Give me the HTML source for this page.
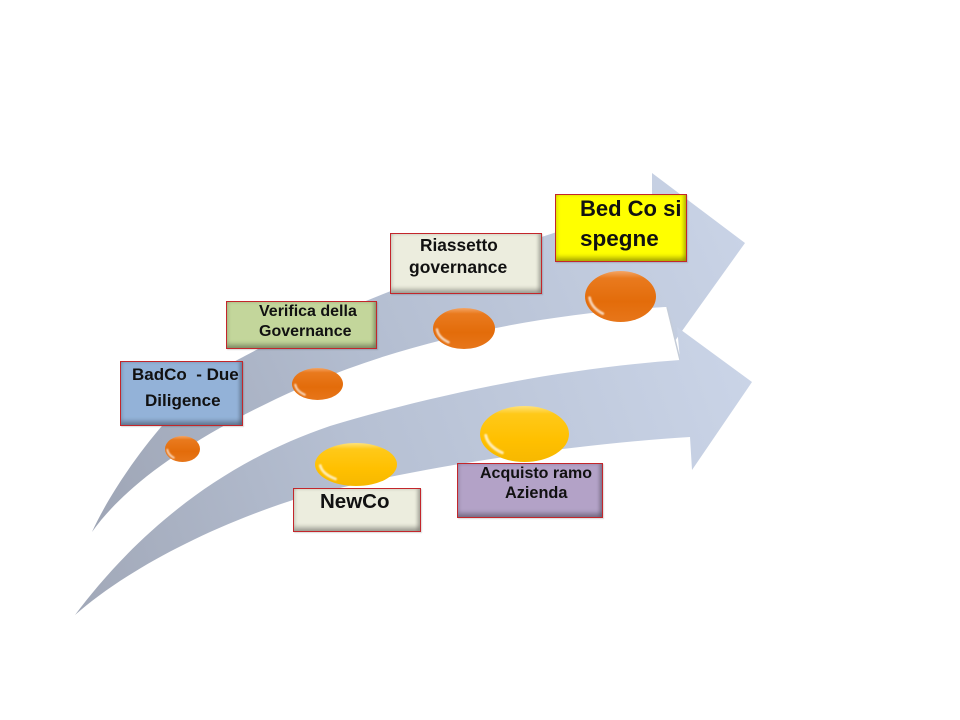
<!DOCTYPE html>
<html><head><meta charset="utf-8"><style>
html,body{margin:0;padding:0;background:#fff;}
#c{position:relative;width:960px;height:720px;overflow:hidden;background:#fff;}
svg{position:absolute;left:0;top:0;}
.b{position:absolute;box-sizing:border-box;border:1.5px solid #c3262b;box-shadow:inset 0 -4px 4px rgba(0,0,0,0.28),inset -3px 0 3px rgba(0,0,0,0.18),1px 1px 1px rgba(0,0,0,0.15);}
</style></head><body><div id="c">
<svg width="960" height="720" viewBox="0 0 960 720">
<defs>
<linearGradient id="ga" gradientUnits="userSpaceOnUse" x1="90" y1="530" x2="745" y2="240">
<stop offset="0" stop-color="#9ea5b5"/><stop offset="0.45" stop-color="#b3bdd0"/><stop offset="1" stop-color="#c9d3e6"/>
</linearGradient>
<linearGradient id="gb" gradientUnits="userSpaceOnUse" x1="75" y1="615" x2="752" y2="380">
<stop offset="0" stop-color="#a1a8b8"/><stop offset="0.45" stop-color="#b6c0d3"/><stop offset="1" stop-color="#cad4e7"/>
</linearGradient>
<linearGradient id="go" x1="0" y1="0" x2="0" y2="1">
<stop offset="0" stop-color="#f4a565"/><stop offset="0.14" stop-color="#e97a1e"/><stop offset="0.6" stop-color="#e36c0a"/><stop offset="1" stop-color="#e7761a"/>
</linearGradient>
<linearGradient id="gy" x1="0" y1="0" x2="0" y2="1">
<stop offset="0" stop-color="#ffe27a"/><stop offset="0.14" stop-color="#ffc919"/><stop offset="0.6" stop-color="#ffc000"/><stop offset="1" stop-color="#f7b800"/>
</linearGradient>
<filter id="bl" x="-20%" y="-20%" width="140%" height="140%"><feGaussianBlur stdDeviation="0.8"/></filter>
</defs>
<!-- top arrow -->
<path d="M92,532 C118,475 185,385 243,357 C300,325 480,250 652,204 L652,173 L745,243 L672,345 L667,307 C560,312 420,335 300,388 C210,428 130,478 92,532 Z" fill="url(#ga)"/>
<!-- white band -->
<path d="M600,312 L667,307 L680,360 L600,369 Z" fill="#ffffff"/>
<path d="M667,307 L680,360" stroke="#c4ccd8" stroke-width="1.5" fill="none"/>
<!-- lower arrow -->
<path d="M75,615 C120,555 200,470 330,426 C450,390 570,368 680,360 L677,327 L752,382 L692,470 L690,437 C560,445 400,470 293,500 C200,530 120,575 75,615 Z" fill="url(#gb)"/>
<!-- balls -->
<g>
<ellipse cx="182.5" cy="449" rx="17.5" ry="13" fill="url(#go)"/>
<ellipse cx="317.5" cy="384" rx="25.5" ry="16" fill="url(#go)"/>
<ellipse cx="464" cy="328.5" rx="31" ry="20.5" fill="url(#go)"/>
<ellipse cx="620.5" cy="296.5" rx="35.5" ry="25.5" fill="url(#go)"/>
<ellipse cx="356" cy="464.5" rx="41" ry="21.5" fill="url(#gy)"/>
<ellipse cx="524.5" cy="434" rx="44.5" ry="28" fill="url(#gy)"/>
<g stroke="#fff" fill="none" stroke-linecap="round" opacity="0.7" filter="url(#bl)">
<path d="M167.3,449.7 A15.4,11.4 0 0 0 173.75,457.7" stroke-width="2"/>
<path d="M295.3,384.8 A22.4,14.1 0 0 0 304.75,394.7" stroke-width="2.2"/>
<path d="M437,329.5 A27.3,18 0 0 0 448.5,342.2" stroke-width="2.5"/>
<path d="M589.6,297.8 A31.2,22.4 0 0 0 602.75,313.6" stroke-width="2.8"/>
<path d="M320.3,465.6 A36,18.9 0 0 0 335.5,478.9" stroke-width="2.8"/>
<path d="M485.8,435.4 A39.2,24.6 0 0 0 502.25,452.8" stroke-width="3"/>
</g>
</g>
</svg>
<div class="b" style="left:120px;top:361px;width:123px;height:65px;background:#93b2d8;"></div>
<div class="b" style="left:226px;top:301px;width:151px;height:48px;background:#c3d69b;"></div>
<div class="b" style="left:390px;top:233px;width:152px;height:61px;background:#ecedde;"></div>
<div class="b" style="left:555px;top:194px;width:132px;height:68px;background:#ffff00;"></div>
<div class="b" style="left:293px;top:488px;width:128px;height:44px;background:#ecedde;"></div>
<div class="b" style="left:457px;top:463px;width:146px;height:55px;background:#b3a2c7;"></div>
<svg width="960" height="720" viewBox="0 0 960 720" style="font-family:'Liberation Sans',sans-serif;font-weight:bold;fill:#111;">
<text x="132" y="380" font-size="17" xml:space="preserve">BadCo  - Due</text>
<text x="145" y="406" font-size="17">Diligence</text>
<text x="259" y="316" font-size="16">Verifica della</text>
<text x="259" y="336" font-size="16">Governance</text>
<text x="420" y="251" font-size="17.3">Riassetto</text>
<text x="409" y="273" font-size="17.5">governance</text>
<text x="580" y="216" font-size="22">Bed Co si</text>
<text x="580" y="246" font-size="22.5">spegne</text>
<text x="320" y="508" font-size="20.5">NewCo</text>
<text x="480" y="478" font-size="16">Acquisto ramo</text>
<text x="505" y="498" font-size="16.3">Azienda</text>
</svg>
</div></body></html>
